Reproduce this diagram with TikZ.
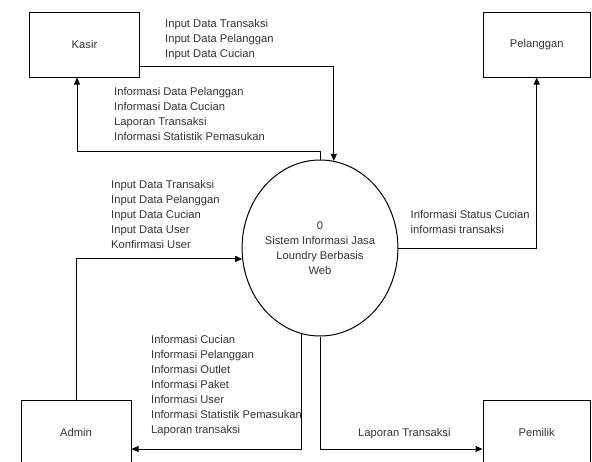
\documentclass[tikz,border=0pt]{standalone}
\usepackage{fontspec}
\setmainfont{Liberation Sans}
\usetikzlibrary{arrows.meta, shapes.geometric, positioning, calc}

\begin{document}
\begin{tikzpicture}[x=1pt, y=-1pt,
		entity/.style={draw, rectangle, line width=1pt, minimum width=110pt, minimum height=65pt, font=\fontsize{11.2}{15}\selectfont, text=black!80},
		process/.style={draw, ellipse, line width=1pt, inner sep=0pt, minimum width=150pt, minimum height=176pt, align=center, font=\fontsize{11.2}{15}\selectfont, text=black!80},
		flow/.style={line width=1pt, -{Triangle[length=7pt, width=6pt]}},
		info/.style={anchor=north west, align=left, inner sep=0pt, font=\fontsize{11.2}{15}\selectfont, text=black!80}]

		\clip (0, 0) rectangle (592, 461);

		% Entities
		\begin{scope}
			\node (kasir) at (84.5, 44.5) [entity] {Kasir};
			\node (pelanggan) at (536.75, 44.5) [entity, minimum width=107.5pt] {Pelanggan};
			\node (admin) at (76, 432.5) [entity] {Admin};
			\node (pemilik) at (536.75, 432.5) [entity, minimum width=107.5pt] {Pemilik};
		\end{scope}

		% Process
		\node (proc) at (320, 248) [process] {0\\Sistem Informasi Jasa\\Loundry Berbasis\\Web};

		% Flows
		\begin{scope}
			\draw[flow] ($(kasir.east)+(0, 21.5)$) -| (proc.81);
			\draw[flow] (proc.north) -- ++(0, -8) -| ($(kasir.south)+(-7.5, 0)$);
			\draw[flow] (proc.east) -| (pelanggan.south);
			\draw[flow] (admin.north) |- (proc.188);
			\draw[flow] (proc.258) |- ($(admin.east)+(0, 16.5)$);
			\draw[flow] (proc.south) |- ($(pemilik.west)+(0, 16.5)$);
		\end{scope}

		% Labels
		\begin{scope}
			\node (kasir_in) at (165, 19.5) [info] {Input Data Transaksi\\Input Data Pelanggan\\Input Data Cucian};
			\node (kasir_out) at (114, 87.5) [info] {Informasi Data Pelanggan\\Informasi Data Cucian\\Laporan Transaksi\\Informasi Statistik Pemasukan};
			\node (admin_in) at (111, 180.5) [info] {Input Data Transaksi\\Input Data Pelanggan\\Input Data Cucian\\Input Data User\\Konfirmasi User};
			\node (admin_out) at (151, 335) [info] {Informasi Cucian\\Informasi Pelanggan\\Informasi Outlet\\Informasi Paket\\Informasi User\\Informasi Statistik Pemasukan\\Laporan transaksi};
			\node (pelanggan_out) at (410.5, 210.5) [info] {Informasi Status Cucian\\informasi transaksi};
			\node (pemilik_out) at (358, 428.5) [info] {Laporan Transaksi};
		\end{scope}

	\end{tikzpicture}
\end{document}
